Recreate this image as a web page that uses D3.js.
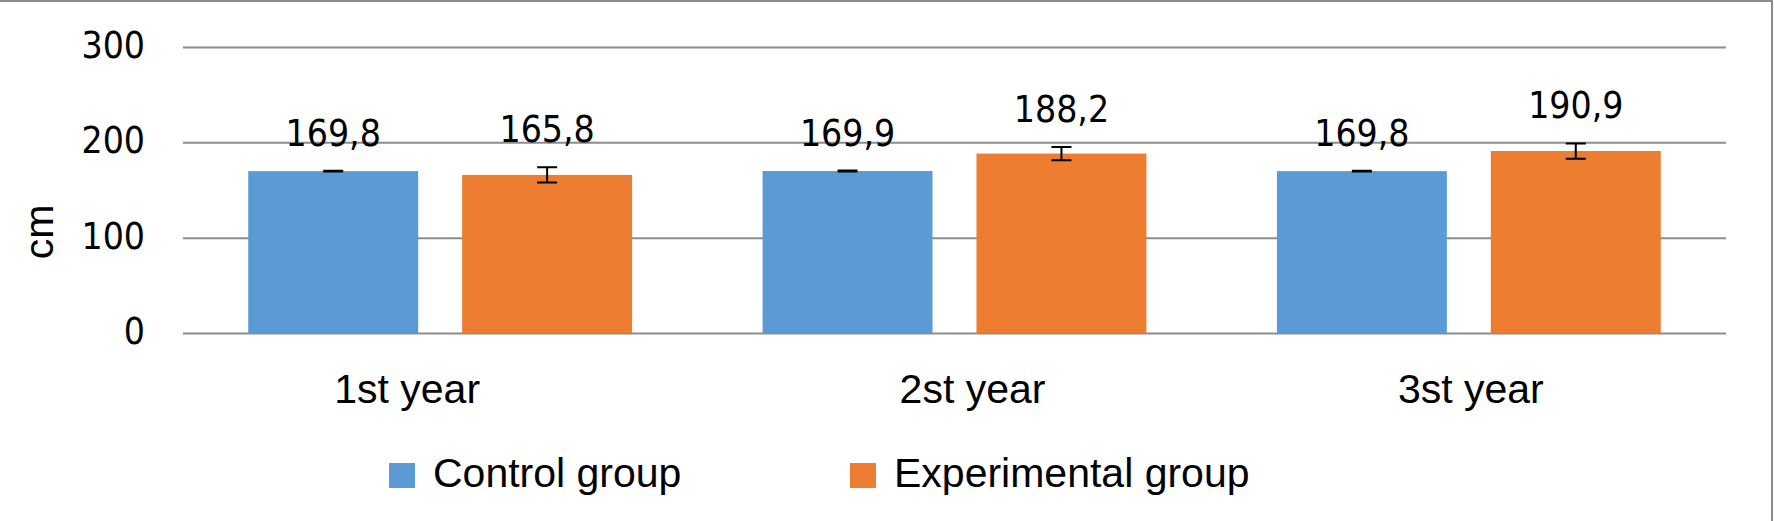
<!DOCTYPE html>
<html>
<head>
<meta charset="utf-8">
<script src="https://cdn.jsdelivr.net/npm/d3@7"></script>
<style>
  body { margin: 0; background: #fff; }
  .num { font-family: "DejaVu Sans Condensed", "DejaVu Sans", sans-serif; font-stretch: condensed; font-size: 37px; fill: #000; }
  .lbl { font-family: "Liberation Sans", Arial, sans-serif; font-size: 41px; fill: #000; }
</style>
</head>
<body>
<div class="chart"></div>
<script>
// chart data
var years = ["1st year", "2st year", "3st year"];
var seriesNames = ["Control group", "Experimental group"];
var controlValues = [169.8, 169.9, 169.8];
var experimentalValues = [165.8, 188.2, 190.9];
var controlErrors = [0.5, 0.5, 0.5];
var experimentalErrors = [8, 7, 8];
var yTicks = [0, 100, 200, 300];

var svgWidth = 1774;
var svgHeight = 521;
var colors = ["#5b9bd5", "#ed7d31"];

var plot = { left: 183, right: 1726, top: 47, bottom: 333 };

var svg = d3.select(".chart")
  .append("svg")
  .attr("width", svgWidth)
  .attr("height", svgHeight);

svg.append("rect")
  .attr("width", svgWidth)
  .attr("height", svgHeight)
  .attr("fill", "#fff");

// frame (only top and right edges are visible in the crop)
svg.append("line")
  .attr("x1", 0).attr("x2", 1773)
  .attr("y1", 1).attr("y2", 1)
  .attr("stroke", "#8c8c8c").attr("stroke-width", 2);
svg.append("line")
  .attr("x1", 1772).attr("x2", 1772)
  .attr("y1", 0).attr("y2", svgHeight)
  .attr("stroke", "#8c8c8c").attr("stroke-width", 2);

// build rows from the arrays
var rows = years.map(function(y, i) {
  return {
    year: y,
    values: [
      { key: seriesNames[0], value: controlValues[i], err: controlErrors[i] },
      { key: seriesNames[1], value: experimentalValues[i], err: experimentalErrors[i] }
    ]
  };
});

// scales
var x0 = d3.scaleBand()
  .domain(years)
  .range([plot.left, plot.right])
  .padding(0);

var x1 = d3.scaleBand()
  .domain(seriesNames)
  .range([0, x0.bandwidth()])
  .paddingInner(0.2056)
  .paddingOuter(0.305);

var yScale = d3.scaleLinear()
  .domain([0, 300])
  .range([plot.bottom, plot.top]);

// y axis with gridlines
var yAxis = d3.axisLeft(yScale)
  .tickValues(yTicks)
  .tickSize(-(plot.right - plot.left))
  .tickPadding(38)
  .tickFormat(d3.format("d"));

var yAxisG = svg.append("g")
  .attr("transform", `translate(${plot.left}, 0)`)
  .call(yAxis);

yAxisG.select(".domain").remove();
yAxisG.selectAll(".tick line")
  .attr("stroke", "#8c8c8c")
  .attr("stroke-width", 2);
yAxisG.selectAll(".tick text")
  .attr("class", "num")
  .attr("dy", "0.32em")
  .attr("y", -1.5);
yAxisG.attr("font-family", null).attr("font-size", null);

// bars
var groups = svg.selectAll(".group")
  .data(rows)
  .enter()
  .append("g")
  .attr("class", "group")
  .attr("transform", d => `translate(${x0(d.year)}, 0)`);

groups.selectAll("rect")
  .data(d => d.values)
  .enter()
  .append("rect")
  .attr("x", d => x1(d.key))
  .attr("y", d => yScale(d.value))
  .attr("width", x1.bandwidth())
  .attr("height", d => yScale(0) - yScale(d.value))
  .attr("fill", (d, i) => colors[i]);

// error bars
var capHalf = 10;
groups.selectAll(".err")
  .data(d => d.values)
  .enter()
  .append("path")
  .attr("class", "err")
  .attr("d", function(d) {
    var cx = x1(d.key) + x1.bandwidth() / 2;
    var top = yScale(d.value + d.err);
    var bot = yScale(d.value - d.err);
    return `M${cx - capHalf},${top}H${cx + capHalf}M${cx},${top}V${bot}M${cx - capHalf},${bot}H${cx + capHalf}`;
  })
  .attr("fill", "none")
  .attr("stroke", "#000")
  .attr("stroke-width", 2);

// value labels
groups.selectAll(".val")
  .data(d => d.values)
  .enter()
  .append("text")
  .attr("class", "num")
  .attr("text-anchor", "middle")
  .attr("x", d => x1(d.key) + x1.bandwidth() / 2)
  .attr("y", d => yScale(d.value + d.err) - 25)
  .text(d => d3.format(".1f")(d.value).replace(".", ","));

// category labels
var labelNudge = [-33, 18, 2];
svg.selectAll(".cat")
  .data(years)
  .enter()
  .append("text")
  .attr("class", "lbl")
  .attr("text-anchor", "middle")
  .attr("x", (d, i) => x0(d) + x0.bandwidth() / 2 + labelNudge[i])
  .attr("y", 403)
  .text(d => d);

// y axis title
svg.append("text")
  .attr("class", "lbl")
  .attr("text-anchor", "middle")
  .attr("transform", "translate(53, 232) rotate(-90)")
  .text("cm");

// legend
var legendX = [389, 850];
var legend = svg.selectAll(".legend")
  .data(seriesNames)
  .enter()
  .append("g")
  .attr("class", "legend")
  .attr("transform", (d, i) => `translate(${legendX[i]}, 463)`);

legend.append("rect")
  .attr("width", 26)
  .attr("height", 25)
  .attr("fill", (d, i) => colors[i]);

legend.append("text")
  .attr("class", "lbl")
  .attr("x", 44)
  .attr("y", 24)
  .text(d => d);
</script>
</body>
</html>
